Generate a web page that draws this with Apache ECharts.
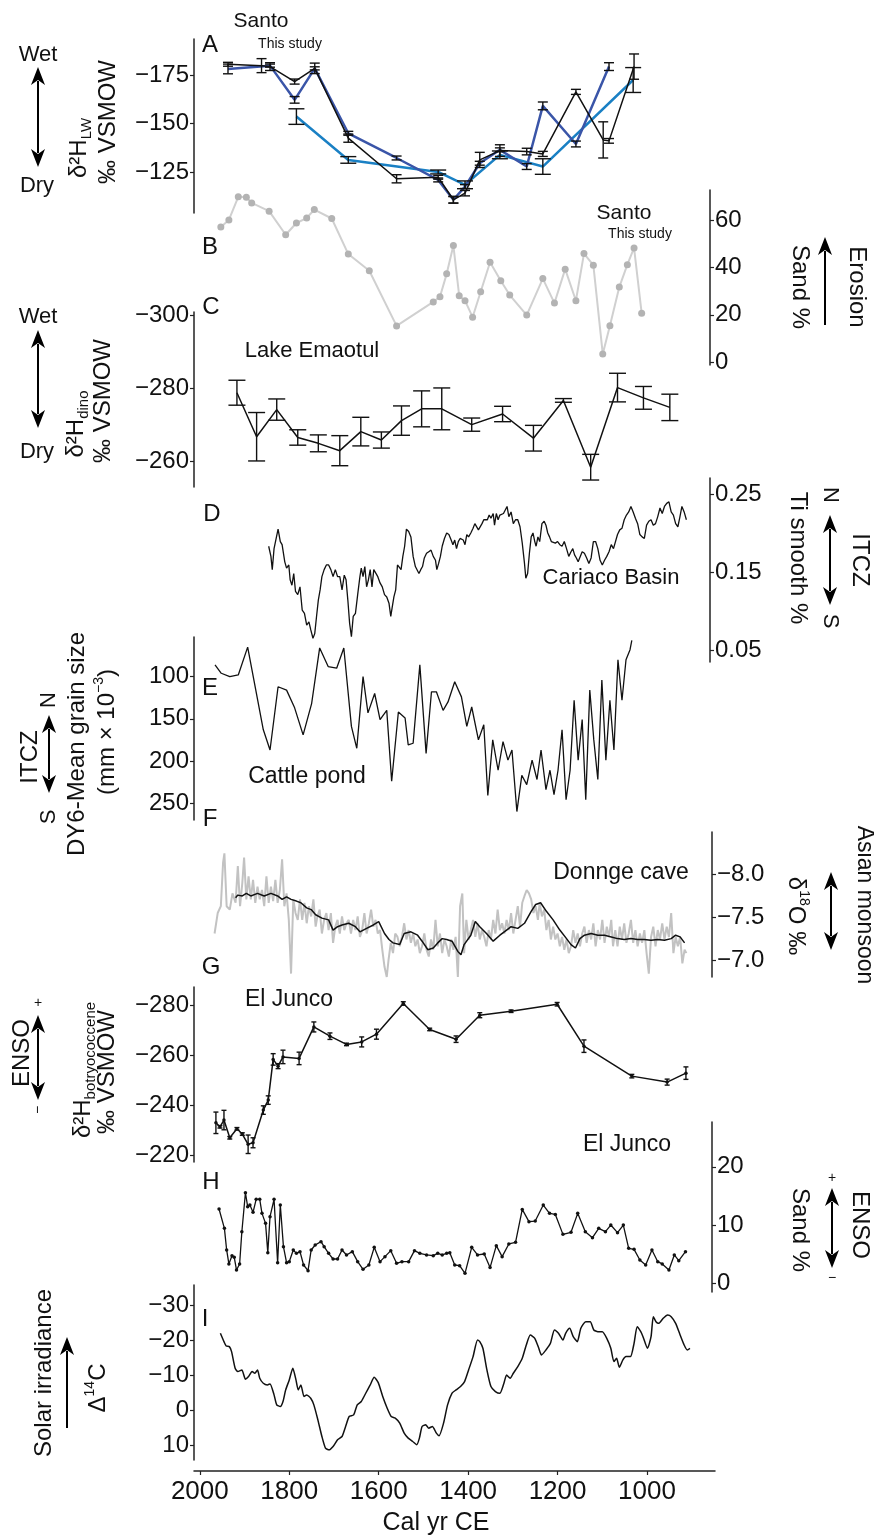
<!DOCTYPE html>
<html>
<head>
<meta charset="utf-8">
<script src="https://cdn.jsdelivr.net/npm/echarts@6/dist/echarts.min.js"></script>
<style>
html, body { margin: 0; padding: 0; background: #fff; }
#chart { width: 874px; height: 1535px; }
</style>
</head>
<body>
<div id="chart"></div>
<script>
var FONT = '"Liberation Sans", Arial, Helvetica, sans-serif';

// x axis (Cal yr CE)
var yearTicks = [2000, 1800, 1600, 1400, 1200, 1000];

// A - Santo dD leaf wax
var santoBlack = [[1937,-180.5],[1862,-179.8],[1843,-179.3],[1788,-171.6],[1743,-178.4],[1668,-142.5],[1560,-121.6],[1467,-122.4],[1433,-110.8],[1407,-114.2],[1374,-131.3],[1329,-136.1],[1269,-135.6],[1233,-134.4],[1159,-166.3],[1098,-141.6],[1085,-141.1],[1029,-179.3]];
var santoBlackErr = [1,3.6,2,1.3,2.7,2.1,2.1,1,1.7,1.4,3.9,3,1.7,1.3,1.3,9.3,1.2,6.5];
var santoDark = [[1937,-178.1],[1843,-179.8],[1788,-162.2],[1743,-178.4],[1668,-145],[1560,-132.3],[1467,-121],[1433,-110.8],[1407,-117.6],[1374,-129.6],[1329,-136.5],[1269,-127.9],[1233,-159.1],[1159,-139.5],[1085,-179.3]];
var santoDarkErr = [2.5,0.8,1.7,0.8,1,1,1,1.7,1,1,1,1.5,2,1.5,2];
var santoLight = [[1784,-153.6],[1668,-131.3],[1467,-125.1],[1407,-118.5],[1329,-133.9],[1233,-127.9],[1031,-172.4]];
var santoLightErr = [4,1.7,1,2,2,4,6.4];
var aTicks = [-175, -150, -125];

// B - Santo sand %
var santoSand = [[1953,57.3],[1935,60.3],[1914,70.1],[1896,69.9],[1884,67.5],[1845,64],[1808,54],[1784,59],[1761,61.1],[1744,64.7],[1705,60.9],[1668,45.8],[1621,38.7],[1560,15.3],[1478,25.5],[1463,27.7],[1448,37.4],[1433,49.4],[1420,28.1],[1407,26],[1390,19],[1372,29.8],[1351,42.3],[1327,34.5],[1307,28.4],[1269,19.9],[1233,35.4],[1207,25],[1183,39.4],[1159,26],[1141,46],[1120,41.1],[1099,3.4],[1083,15.4],[1062,31.8],[1044,41.3],[1029,48.4],[1012,20.7]];
var bTicks = [0, 20, 40, 60];

// C - Lake Emaotul dD dino
var emaotul = [[1917,-278.8],[1873,-266.8],[1828,-274.2],[1781,-266.6],[1735,-265],[1687,-263],[1640,-268.2],[1594,-265.9],[1549,-271.2],[1504,-274.4],[1459,-274.4],[1392,-270.1],[1323,-273],[1254,-266.4],[1187,-276.7],[1126,-258.5],[1066,-280.2],[1008,-277.4],[949,-274.8]];
var emaotulErr = [3.4,6.6,2.9,2.1,2.3,4.1,3.9,2.2,4,4.9,5.7,1.8,2.1,3.5,0.5,3.5,3.9,3.1,3.6];
var cTicks = [-300, -280, -260];

// D - Cariaco Basin Ti
var cariaco = [[1846,0.183],[1841,0.170],[1838,0.153],[1834,0.180],[1830,0.182],[1825,0.205],[1820,0.189],[1816,0.185],[1810,0.163],[1806,0.155],[1801,0.159],[1798,0.140],[1794,0.133],[1790,0.148],[1786,0.125],[1781,0.121],[1776,0.131],[1771,0.101],[1766,0.097],[1761,0.082],[1756,0.086],[1752,0.076],[1747,0.065],[1743,0.071],[1739,0.093],[1735,0.114],[1731,0.127],[1727,0.144],[1722,0.153],[1717,0.159],[1712,0.159],[1707,0.153],[1702,0.144],[1697,0.153],[1692,0.144],[1687,0.144],[1682,0.127],[1677,0.146],[1673,0.140],[1669,0.114],[1665,0.084],[1661,0.067],[1657,0.093],[1652,0.097],[1647,0.121],[1642,0.144],[1639,0.155],[1635,0.144],[1631,0.157],[1627,0.131],[1623,0.140],[1619,0.153],[1615,0.131],[1611,0.153],[1607,0.153],[1602,0.144],[1597,0.136],[1592,0.131],[1587,0.121],[1582,0.118],[1577,0.110],[1573,0.093],[1570,0.104],[1566,0.118],[1562,0.127],[1558,0.159],[1554,0.159],[1550,0.153],[1546,0.170],[1542,0.183],[1538,0.205],[1533,0.202],[1528,0.195],[1523,0.170],[1518,0.157],[1514,0.159],[1510,0.148],[1506,0.153],[1502,0.157],[1498,0.168],[1493,0.174],[1488,0.176],[1483,0.178],[1478,0.170],[1473,0.165],[1470,0.153],[1466,0.161],[1462,0.170],[1458,0.183],[1453,0.193],[1448,0.200],[1443,0.198],[1438,0.191],[1434,0.185],[1430,0.191],[1426,0.180],[1422,0.189],[1418,0.193],[1414,0.195],[1411,0.191],[1407,0.185],[1403,0.198],[1399,0.195],[1394,0.200],[1389,0.206],[1385,0.212],[1381,0.210],[1377,0.204],[1373,0.206],[1369,0.212],[1365,0.217],[1361,0.215],[1357,0.217],[1353,0.223],[1349,0.219],[1344,0.225],[1341,0.210],[1337,0.225],[1333,0.217],[1329,0.223],[1325,0.221],[1321,0.225],[1317,0.225],[1313,0.234],[1309,0.221],[1304,0.227],[1299,0.212],[1294,0.217],[1289,0.217],[1284,0.208],[1279,0.187],[1274,0.161],[1271,0.142],[1267,0.148],[1263,0.174],[1259,0.195],[1255,0.200],[1251,0.189],[1248,0.183],[1244,0.195],[1240,0.189],[1235,0.212],[1230,0.215],[1226,0.210],[1222,0.200],[1218,0.195],[1214,0.189],[1210,0.191],[1205,0.187],[1200,0.189],[1195,0.185],[1190,0.183],[1185,0.189],[1180,0.180],[1175,0.170],[1170,0.176],[1166,0.180],[1162,0.172],[1158,0.168],[1154,0.163],[1150,0.165],[1145,0.176],[1140,0.174],[1135,0.168],[1130,0.161],[1125,0.168],[1120,0.189],[1115,0.189],[1110,0.180],[1105,0.165],[1100,0.159],[1095,0.165],[1090,0.170],[1085,0.176],[1080,0.185],[1075,0.180],[1071,0.178],[1066,0.198],[1061,0.204],[1056,0.206],[1051,0.217],[1046,0.223],[1041,0.227],[1036,0.234],[1031,0.227],[1026,0.219],[1021,0.212],[1016,0.198],[1011,0.195],[1006,0.193],[1001,0.210],[996,0.215],[991,0.217],[986,0.210],[981,0.212],[976,0.221],[971,0.232],[966,0.225],[961,0.234],[956,0.238],[951,0.240],[946,0.227],[941,0.223],[936,0.212],[931,0.208],[927,0.219],[922,0.234],[917,0.227],[912,0.217]];
var dTicks = [0.05, 0.15, 0.25];

// E - Cattle pond grain size
var cattlePond = [[1966,86],[1952,96],[1933,100],[1914,98],[1893,65],[1858,163],[1843,187],[1825,112],[1806,116],[1788,137],[1769,169],[1750,132],[1732,66],[1713,88],[1694,90],[1678,66],[1661,159],[1649,185],[1635,100],[1624,143],[1609,120],[1597,151],[1582,140],[1571,224],[1556,142],[1541,149],[1534,181],[1523,179],[1508,86],[1494,191],[1482,118],[1471,118],[1456,140],[1445,130],[1430,106],[1415,124],[1403,159],[1392,136],[1377,175],[1365,157],[1356,241],[1345,175],[1333,211],[1322,177],[1311,199],[1302,187],[1291,260],[1280,217],[1269,228],[1257,199],[1246,222],[1237,187],[1226,234],[1217,211],[1208,240],[1199,211],[1190,163],[1181,246],[1172,211],[1163,128],[1154,199],[1145,151],[1137,246],[1128,116],[1119,175],[1110,222],[1101,104],[1092,199],[1083,128],[1074,187],[1065,80],[1056,128],[1047,80],[1038,68],[1034,57]];
var eTicks = [100, 150, 200, 250];

// F - Dongge cave d18O (raw and smoothed)
var donggeRaw = [[1967,-7.31],[1960,-7.55],[1953,-7.63],[1948,-8.14],[1945,-8.25],[1940,-7.63],[1933,-7.59],[1927,-7.78],[1920,-7.67],[1915,-8.10],[1910,-7.63],[1905,-7.90],[1901,-8.20],[1896,-7.71],[1891,-7.98],[1886,-7.71],[1881,-7.94],[1876,-7.67],[1871,-7.86],[1866,-7.71],[1861,-7.82],[1856,-7.63],[1851,-7.98],[1846,-7.67],[1841,-7.86],[1836,-7.69],[1831,-7.94],[1826,-7.67],[1821,-7.82],[1816,-8.18],[1811,-7.63],[1806,-7.78],[1801,-7.47],[1796,-6.84],[1791,-7.71],[1786,-7.55],[1781,-7.47],[1776,-7.71],[1771,-7.47],[1766,-7.67],[1761,-7.43],[1756,-7.63],[1751,-7.51],[1746,-7.71],[1741,-7.39],[1737,-7.51],[1732,-7.59],[1727,-7.31],[1722,-7.47],[1717,-7.55],[1712,-7.35],[1707,-7.55],[1702,-7.20],[1697,-7.39],[1692,-7.47],[1687,-7.31],[1682,-7.51],[1677,-7.35],[1672,-7.43],[1667,-7.47],[1662,-7.31],[1657,-7.47],[1652,-7.35],[1647,-7.51],[1642,-7.27],[1637,-7.35],[1632,-7.55],[1627,-7.31],[1622,-7.43],[1617,-7.59],[1612,-7.39],[1607,-7.47],[1602,-7.31],[1597,-7.35],[1592,-7.12],[1587,-6.92],[1582,-6.80],[1578,-7.00],[1573,-7.20],[1568,-7.08],[1563,-7.31],[1558,-7.27],[1553,-7.16],[1548,-7.27],[1543,-7.43],[1538,-7.24],[1533,-7.35],[1528,-7.20],[1523,-7.31],[1518,-7.16],[1513,-7.24],[1508,-7.08],[1503,-7.16],[1498,-7.31],[1493,-7.12],[1488,-7.04],[1483,-7.24],[1478,-7.12],[1473,-7.47],[1468,-7.16],[1463,-7.31],[1458,-7.08],[1453,-7.24],[1448,-7.16],[1443,-7.04],[1438,-7.24],[1433,-7.12],[1428,-7.27],[1423,-6.80],[1418,-7.63],[1413,-7.78],[1409,-7.08],[1404,-7.47],[1399,-7.24],[1394,-7.35],[1389,-7.47],[1384,-7.27],[1379,-7.43],[1374,-7.24],[1369,-7.35],[1364,-7.27],[1359,-7.16],[1354,-7.35],[1349,-7.24],[1344,-7.47],[1339,-7.31],[1334,-7.59],[1329,-7.35],[1324,-7.43],[1319,-7.31],[1314,-7.47],[1309,-7.35],[1304,-7.55],[1299,-7.31],[1294,-7.47],[1289,-7.63],[1284,-7.39],[1279,-7.67],[1274,-7.75],[1269,-7.82],[1264,-7.78],[1259,-7.71],[1254,-7.55],[1249,-7.63],[1244,-7.47],[1240,-7.67],[1235,-7.51],[1230,-7.59],[1225,-7.35],[1220,-7.47],[1215,-7.24],[1210,-7.39],[1205,-7.24],[1200,-7.31],[1195,-7.16],[1190,-7.27],[1185,-7.12],[1180,-7.24],[1175,-7.08],[1170,-7.16],[1165,-7.35],[1160,-7.20],[1155,-7.31],[1150,-7.16],[1145,-7.31],[1140,-7.39],[1135,-7.20],[1130,-7.35],[1125,-7.24],[1120,-7.43],[1115,-7.16],[1110,-7.35],[1105,-7.24],[1100,-7.47],[1095,-7.20],[1090,-7.39],[1085,-7.27],[1080,-7.47],[1076,-7.16],[1071,-7.35],[1066,-7.16],[1061,-7.39],[1056,-7.24],[1051,-7.43],[1046,-7.20],[1041,-7.31],[1036,-7.47],[1031,-7.20],[1026,-7.35],[1021,-7.16],[1016,-7.31],[1011,-7.20],[1006,-7.35],[1001,-7.08],[996,-6.84],[991,-7.27],[986,-7.39],[981,-7.16],[976,-7.35],[971,-7.24],[966,-7.43],[961,-7.24],[956,-7.39],[951,-7.27],[946,-7.55],[941,-7.08],[936,-7.27],[931,-7.16],[926,-7.27],[921,-6.96],[916,-7.12],[912,-7.08]];
var donggeSmooth = [[1920,-7.73],[1915,-7.76],[1905,-7.75],[1896,-7.78],[1886,-7.75],[1871,-7.78],[1856,-7.75],[1841,-7.78],[1826,-7.75],[1816,-7.71],[1806,-7.74],[1796,-7.71],[1784,-7.69],[1774,-7.67],[1761,-7.61],[1751,-7.59],[1741,-7.53],[1727,-7.49],[1712,-7.47],[1702,-7.35],[1692,-7.39],[1682,-7.41],[1667,-7.43],[1652,-7.39],[1642,-7.33],[1627,-7.37],[1612,-7.41],[1600,-7.45],[1587,-7.31],[1577,-7.24],[1568,-7.20],[1553,-7.18],[1543,-7.31],[1528,-7.33],[1513,-7.29],[1503,-7.22],[1490,-7.12],[1478,-7.14],[1468,-7.20],[1458,-7.25],[1448,-7.24],[1436,-7.22],[1423,-7.10],[1416,-7.06],[1409,-7.18],[1394,-7.29],[1384,-7.45],[1374,-7.39],[1359,-7.31],[1344,-7.22],[1329,-7.29],[1314,-7.35],[1304,-7.39],[1289,-7.37],[1274,-7.43],[1259,-7.57],[1249,-7.65],[1238,-7.67],[1225,-7.57],[1210,-7.47],[1195,-7.35],[1180,-7.25],[1170,-7.18],[1160,-7.14],[1150,-7.25],[1140,-7.29],[1125,-7.31],[1110,-7.29],[1095,-7.29],[1080,-7.27],[1066,-7.25],[1051,-7.24],[1036,-7.25],[1021,-7.24],[1006,-7.24],[991,-7.23],[976,-7.24],[961,-7.23],[946,-7.25],[936,-7.29],[926,-7.27],[916,-7.20]];
var fTicks = [-8.0, -7.5, -7.0];

// G - El Junco dD botryococcene
var junco = [[1964,-232.9],[1955,-231.3],[1946,-234],[1933,-226.9],[1917,-230.5],[1905,-228.4],[1892,-224.3],[1881,-224.9],[1858,-238],[1847,-242],[1836,-258.3],[1825,-255.6],[1814,-259.3],[1778,-258.7],[1745,-271.3],[1709,-267.6],[1672,-264.3],[1638,-265.3],[1605,-268.4],[1545,-280.7],[1486,-270.3],[1427,-266.4],[1374,-276],[1304,-277.6],[1201,-280.4],[1141,-263.6],[1034,-251.6],[955,-249.2],[913,-252.8]];
var juncoErr = [4.3,0.5,3.9,0.5,0.5,0.5,3.7,2,1.7,1.7,2.3,1,2.7,2.5,2,1.3,0.5,2,2,0.7,0.5,1.3,1,0.5,0.7,2.5,0.7,1.2,2.5];
var gTicks = [-280, -260, -240, -220];

// H - El Junco sand %
var juncoSand = [[1957,12.75],[1945,9.43],[1940,5.72],[1935,3.32],[1928,4.74],[1923,4.46],[1918,2.29],[1911,3.32],[1906,8.86],[1898,15.55],[1893,13.15],[1888,13.44],[1881,12.18],[1874,14.41],[1866,14.41],[1861,12.01],[1853,10.29],[1848,5.26],[1843,11.43],[1834,14.41],[1826,3.54],[1820,13.44],[1813,6.29],[1806,3.54],[1800,3.71],[1791,5.72],[1784,5.14],[1776,5.43],[1768,3.14],[1758,2.17],[1751,5.72],[1742,6.57],[1729,7.15],[1722,6.29],[1712,5.14],[1702,4.17],[1692,4.17],[1682,5.72],[1672,4.86],[1659,5.43],[1647,3.71],[1635,2.40],[1622,3.14],[1610,6.17],[1597,3.71],[1586,4.57],[1573,5.60],[1560,3.43],[1548,3.71],[1533,3.71],[1520,5.60],[1508,5.14],[1493,4.86],[1478,4.74],[1468,5.14],[1458,4.86],[1448,5.14],[1441,5.26],[1430,3.14],[1419,3.03],[1407,1.71],[1392,6.17],[1379,4.86],[1364,5.03],[1351,2.69],[1337,6.46],[1324,4.57],[1309,6.75],[1294,7.03],[1279,12.69],[1264,10.58],[1250,10.69],[1232,13.44],[1218,12.01],[1205,11.83],[1188,8.40],[1170,8.75],[1155,12.01],[1138,8.86],[1122,7.83],[1108,9.43],[1093,8.86],[1081,10.0],[1066,8.69],[1053,10.0],[1041,6.0],[1029,5.83],[1016,4.0],[1003,3.14],[989,5.72],[976,3.71],[966,3.32],[951,2.29],[939,4.86],[929,3.88],[914,5.43]];
var hTicks = [0, 10, 20];

// I - Delta 14C (solar irradiance)
var delta14C = [[1954,-21.95],[1946,-19.58],[1941,-18.35],[1934,-18.16],[1929,-16.74],[1921,-12.01],[1915,-11.06],[1906,-11.53],[1898,-8.88],[1891,-9.64],[1883,-11.06],[1877,-10.58],[1871,-11.53],[1866,-9.17],[1858,-7.74],[1849,-7.27],[1843,-7.55],[1834,-4.43],[1828,-1.59],[1820,-1.12],[1814,-2.54],[1808,-5.85],[1800,-8.69],[1792,-12.01],[1785,-8.69],[1780,-5.85],[1774,-7.27],[1767,-3.96],[1761,-4.43],[1752,-3.48],[1745,-1.59],[1736,2.67],[1727,7.41],[1719,10.72],[1711,11.2],[1702,10.25],[1692,8.35],[1682,7.41],[1674,4.57],[1666,1.73],[1656,1.25],[1648,-1.59],[1639,-2.54],[1629,-4.9],[1619,-7.27],[1610,-9.45],[1601,-7.93],[1591,-3.96],[1581,-0.64],[1572,1.73],[1563,2.2],[1553,3.62],[1543,6.46],[1534,7.88],[1524,8.83],[1515,9.77],[1509,7.88],[1503,4.57],[1495,4.09],[1488,5.04],[1480,4.57],[1471,6.46],[1465,7.22],[1455,3.62],[1446,-1.59],[1436,-4.9],[1427,-5.85],[1417,-6.8],[1408,-8.22],[1399,-11.53],[1389,-15.32],[1379,-20.05],[1374,-19.58],[1367,-17.69],[1358,-11.53],[1349,-6.8],[1339,-5.38],[1329,-4.9],[1320,-7.74],[1314,-10.11],[1306,-9.17],[1299,-10.58],[1289,-12.48],[1279,-14.85],[1270,-18.63],[1261,-21.48],[1251,-20.53],[1242,-17.69],[1236,-15.79],[1226,-17.21],[1216,-19.11],[1207,-22.9],[1198,-21.95],[1188,-20.05],[1182,-21.95],[1173,-23.37],[1165,-21],[1156,-19.58],[1148,-23.37],[1137,-25.26],[1127,-25.26],[1119,-22.9],[1110,-22.42],[1100,-22.42],[1090,-20.53],[1081,-17.69],[1074,-13.9],[1068,-14.85],[1062,-12.29],[1054,-14.37],[1047,-15.32],[1037,-15.32],[1029,-19.11],[1022,-23.84],[1014,-22.42],[1009,-21],[999,-17.69],[991,-21],[986,-26.68],[980,-25.26],[974,-24.79],[964,-26.21],[954,-27.16],[946,-26.68],[936,-24.79],[926,-21.48],[917,-18.63],[910,-17.21],[904,-17.69]];
var iTicks = [-30, -20, -10, 0, 10];

function minus(v) { return String(v).replace('-', '\u2212'); }

// panel frames: grid top/height, axis side and range
var panels = [
  { top: 39,   height: 174, side: 'left',  min: -193.5, max: -104,   inverse: true,  ticks: aTicks, fmt: minus },
  { top: 190,  height: 175, side: 'right', min: -1.3,   max: 73,     inverse: false, ticks: bTicks, fmt: minus, offset: -5 },
  { top: 312,  height: 175, side: 'left',  min: -300.8, max: -253.1, inverse: true,  ticks: cTicks, fmt: minus },
  { top: 478,  height: 184, side: 'right', min: 0.0346, max: 0.2705, inverse: false, ticks: dTicks, fmt: function (v) { return v.toFixed(2); }, offset: -5 },
  { top: 637,  height: 183, side: 'left',  min: 53,     max: 270,    inverse: true,  ticks: eTicks, fmt: minus },
  { top: 832,  height: 145, side: 'right', min: -8.5,   max: -6.8,   inverse: true,  ticks: fTicks, fmt: function (v) { return minus(v.toFixed(1)); }, offset: -3 },
  { top: 987,  height: 175, side: 'left',  min: -287.3, max: -217.2, inverse: true,  ticks: gTicks, fmt: minus },
  { top: 1122, height: 170, side: 'right', min: -1.5,   max: 27.7,   inverse: false, ticks: hTicks, fmt: minus, offset: -3 },
  { top: 1285, height: 175, side: 'left',  min: -35.7,  max: 14.1,   inverse: true,  ticks: iTicks, fmt: minus }
];

var grids = [], xAxes = [], yAxes = [];
panels.forEach(function (p, i) {
  grids.push({ left: 194, right: 159, top: p.top, height: p.height, containLabel: false, outerBoundsMode: 'none' });
  var last = i === panels.length - 1;
  xAxes.push({
    gridIndex: i, type: 'value', min: 848, max: 2013, inverse: true, show: last,
    position: 'bottom', offset: 11,
    splitLine: { show: false },
    axisLine: { onZero: false, lineStyle: { color: '#222', width: 1.5 } },
    axisTick: { customValues: yearTicks, length: 4, lineStyle: { color: '#222', width: 1.2 } },
    axisLabel: { customValues: yearTicks, fontSize: 26, fontFamily: FONT, color: '#111', margin: 8,
      formatter: function (v) { return String(v); } }
  });
  yAxes.push({
    gridIndex: i, type: 'value', position: p.side, offset: p.offset || 0,
    min: p.min, max: p.max, inverse: p.inverse,
    splitLine: { show: false },
    axisLine: { show: true, onZero: false, lineStyle: { color: '#222', width: 1.5 } },
    axisTick: { show: true, customValues: p.ticks, length: 4, lineStyle: { color: '#222', width: 1.2 } },
    axisLabel: { customValues: p.ticks, fontSize: 24, fontFamily: FONT, color: '#111', margin: 5, formatter: p.fmt }
  });
});

function line(idx, data, color, width, extra) {
  var s = {
    type: 'line', xAxisIndex: idx, yAxisIndex: idx, data: data,
    symbol: 'none', smooth: false, z: 4,
    lineStyle: { color: color, width: width },
    itemStyle: { color: color }
  };
  for (var k in extra) s[k] = extra[k];
  return s;
}

function errBars(idx, pts, errs, cap) {
  return {
    type: 'custom', xAxisIndex: idx, yAxisIndex: idx, silent: true, z: 5,
    data: pts.map(function (p, k) { return [p[0], p[1] - errs[k], p[1] + errs[k]]; }),
    encode: { x: 0, y: [1, 2] },
    renderItem: function (params, api) {
      var a = api.coord([api.value(0), api.value(1)]);
      var b = api.coord([api.value(0), api.value(2)]);
      var h = cap / 2, st = { stroke: '#111', lineWidth: 1.4 };
      return { type: 'group', children: [
        { type: 'line', shape: { x1: a[0], y1: a[1], x2: b[0], y2: b[1] }, style: st },
        { type: 'line', shape: { x1: a[0] - h, y1: a[1], x2: a[0] + h, y2: a[1] }, style: st },
        { type: 'line', shape: { x1: b[0] - h, y1: b[1], x2: b[0] + h, y2: b[1] }, style: st }
      ] };
    }
  };
}

var series = [
  line(0, santoLight, '#1a80c4', 2.5),
  line(0, santoDark, '#3a55a8', 2.5),
  line(0, santoBlack, '#111', 1.5),
  errBars(0, santoBlack, santoBlackErr, 10),
  errBars(0, santoDark, santoDarkErr, 10),
  errBars(0, santoLight, santoLightErr, 16),
  line(1, santoSand, '#d0d0d0', 2, { symbol: 'circle', symbolSize: 7, itemStyle: { color: '#b3b3b3' } }),
  line(2, emaotul, '#111', 1.5),
  errBars(2, emaotul, emaotulErr, 17),
  line(3, cariaco, '#111', 1.3),
  line(4, cattlePond, '#111', 1.3),
  line(5, donggeRaw, '#c2c2c2', 2),
  line(5, donggeSmooth, '#111', 1.5),
  line(6, junco, '#111', 1.5, { symbol: 'circle', symbolSize: 3.5 }),
  errBars(6, junco, juncoErr, 5),
  line(7, juncoSand, '#111', 1.3, { symbol: 'circle', symbolSize: 3.5 }),
  line(8, delta14C, '#111', 1.5, { smooth: 0.2 })
];

// ---- annotations ----
var CCW = Math.PI / 2, CW = -Math.PI / 2;
var rich = {
  m: { fontSize: 24, fontFamily: FONT, lineHeight: 30, color: '#111' },
  sup: { fontSize: 14, fontFamily: FONT, lineHeight: 16, verticalAlign: 'top', color: '#111' },
  sub: { fontSize: 15, fontFamily: FONT, lineHeight: 14, verticalAlign: 'bottom', color: '#111' }
};
function txt(x, y, s, size, rot, isRich) {
  return {
    type: 'text', x: x, y: y, rotation: rot || 0, silent: true,
    style: { text: s, fontSize: size, fontFamily: FONT, fill: '#111', align: 'center', verticalAlign: 'middle', rich: isRich ? rich : undefined }
  };
}
function arrow(x, y1, y2, both) {
  var hw = 7, hl = 18, st = { stroke: '#000', lineWidth: 2 };
  var els = [{ type: 'line', shape: { x1: x, y1: y1 + hl - 4, x2: x, y2: both ? y2 - hl + 4 : y2 }, style: st, silent: true }];
  els.push({ type: 'polygon', silent: true, shape: { points: [[x, y1], [x + hw, y1 + hl], [x, y1 + hl - 5], [x - hw, y1 + hl]] }, style: { fill: '#000' } });
  if (both) {
    els.push({ type: 'polygon', silent: true, shape: { points: [[x, y2], [x + hw, y2 - hl], [x, y2 - hl + 5], [x - hw, y2 - hl]] }, style: { fill: '#000' } });
  }
  return els;
}

var graphics = [
  // panel letters
  txt(210, 45, 'A', 24), txt(210, 247, 'B', 24), txt(211, 307, 'C', 24), txt(212, 514, 'D', 24),
  txt(210, 688, 'E', 24), txt(210, 819, 'F', 24), txt(211, 967, 'G', 24), txt(211, 1182, 'H', 24),
  txt(205, 1319, 'I', 24),
  // site labels
  txt(261, 21, 'Santo', 21), txt(290, 44, 'This study', 14),
  txt(624, 213, 'Santo', 21), txt(640, 234, 'This study', 14),
  txt(312, 351, 'Lake Emaotul', 22),
  txt(611, 578, 'Cariaco Basin', 22),
  txt(307, 777, 'Cattle pond', 23),
  txt(621, 873, 'Donnge cave', 23),
  txt(289, 1000, 'El Junco', 23),
  txt(627, 1145, 'El Junco', 23),
  txt(436, 1523, 'Cal yr CE', 25),
  // A left
  txt(38, 55, 'Wet', 22), txt(37, 186, 'Dry', 22),
  txt(79, 148, '{m|δ²H}{sub|LW}', 24, CCW, true),
  txt(108, 122, '‰ VSMOW', 24, CCW),
  // B right
  txt(800, 287, 'Sand %', 24, CW), txt(857, 287, 'Erosion', 24, CW),
  // C left
  txt(38, 317, 'Wet', 22), txt(37, 452, 'Dry', 22),
  txt(76, 424, '{m|δ²H}{sub|dino}', 24, CCW, true),
  txt(103, 401, '‰ VSMOW', 24, CCW),
  // D right
  txt(798, 558, 'Ti smooth %', 24, CW), txt(860, 560, 'ITCZ', 24, CW),
  txt(830, 495, 'N', 22, CW), txt(830, 621, 'S', 22, CW),
  // E left
  txt(30, 757, 'ITCZ', 24, CCW), txt(49, 700, 'N', 22, CCW), txt(49, 817, 'S', 22, CCW),
  txt(77, 744, 'DY6-Mean grain size', 24, CCW),
  txt(107, 732, '{m|(mm × 10}{sup|−3}{m|)}', 24, CCW, true),
  // F right
  txt(796, 916, '{m|δ}{sup|18}{m|O ‰}', 24, CW, true),
  txt(864, 905, 'Asian monsoon', 23, CW),
  // G left
  txt(22, 1053, 'ENSO', 24, CCW), txt(38, 1003, '+', 14), txt(38, 1110, '−', 14, CCW),
  txt(83, 1070, '{m|δ²H}{sub|botryococcene}', 24, CCW, true),
  txt(107, 1072, '‰ VSMOW', 24, CCW),
  // H right
  txt(800, 1230, 'Sand %', 24, CW), txt(860, 1225, 'ENSO', 24, CW),
  txt(832, 1178, '+', 14), txt(832, 1278, '−', 14),
  // I left
  txt(44, 1373, 'Solar irradiance', 24, CCW),
  txt(98, 1388, '{m|Δ}{sup|14}{m|C}', 24, CCW, true)
];
graphics = graphics
  .concat(arrow(38, 67, 167, true))
  .concat(arrow(825, 237, 325, false))
  .concat(arrow(38, 330, 428, true))
  .concat(arrow(830, 515, 605, true))
  .concat(arrow(49, 715, 793, true))
  .concat(arrow(831, 872, 950, true))
  .concat(arrow(38, 1015, 1100, true))
  .concat(arrow(832, 1188, 1268, true))
  .concat(arrow(67, 1337, 1428, false));

var chart = echarts.init(document.getElementById('chart'));
chart.setOption({
  animation: false,
  backgroundColor: '#fff',
  grid: grids,
  xAxis: xAxes,
  yAxis: yAxes,
  series: series,
  graphic: graphics
});
</script>
</body>
</html>
